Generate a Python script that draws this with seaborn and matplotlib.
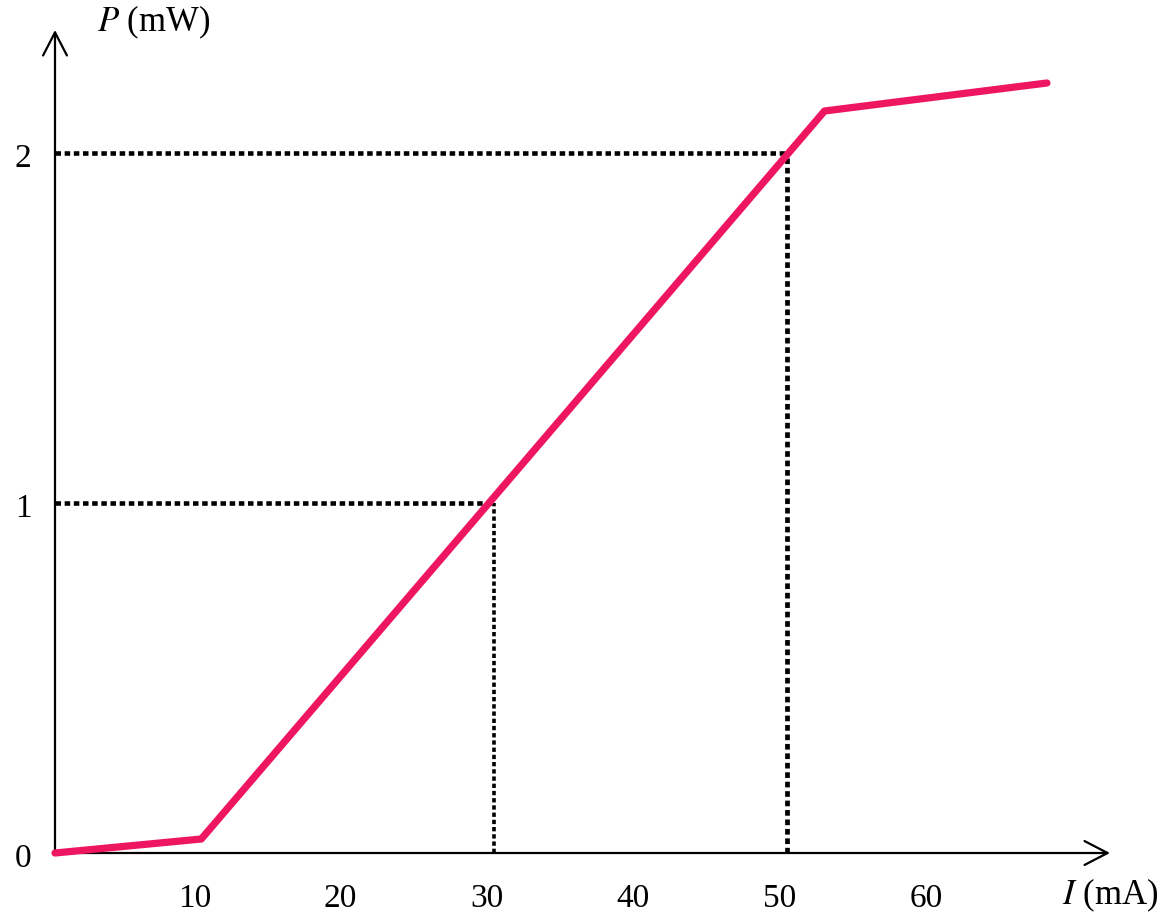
import numpy as np
import pandas as pd
import seaborn as sns
import matplotlib.pyplot as plt
from matplotlib.transforms import ScaledTranslation

# values
current_ma = [0, 10, 52.6, 67.8]
power_mw = [0, 0.04, 2.12, 2.20]
guide_current = [30, 50]
guide_power = [1, 2]
x_ticks = [10, 20, 30, 40, 50, 60]
y_ticks = [0, 1, 2]

sns.set_style('white')
plt.rcParams['font.family'] = ['Liberation Serif', 'DejaVu Serif']
plt.rcParams['mathtext.fontset'] = 'stix'
plt.rcParams['text.color'] = 'black'

W, H = 1161, 919
fig = plt.figure(figsize=(W / 100, H / 100), dpi=100)
ax = fig.add_axes([55 / W, 66 / H, 1055 / W, 823 / H])
ax.set_xlim(0, 1055 / 14.63)
ax.set_ylim(0, 823 / 350)

df = pd.DataFrame({'I': current_ma, 'P': power_mw})
sns.lineplot(data=df, x='I', y='P', color='#EE1660', lw=5.2, ax=ax,
             clip_on=False, zorder=4)

# dotted guide lines
for gx, gy, w in zip(guide_current, guide_power, [2.6, 3.4]):
    ax.plot([0, gx], [gy, gy], color='black', lw=3.3,
            linestyle=(0, (1.2, 0.8)), zorder=3)
    ax.plot([gx, gx], [0, gy], color='black', lw=w,
            linestyle=(0, (1.2, 0.8)), zorder=3)

# axes with open arrow heads
for s in ax.spines.values():
    s.set_visible(False)
arrow = dict(arrowstyle='->,head_length=0.83,head_width=0.43', lw=1.6,
             color='black', mutation_scale=20, shrinkA=0, shrinkB=0)
ax.annotate('', xy=(1, 0), xytext=(0, 0), xycoords='axes fraction', arrowprops=arrow)
ax.annotate('', xy=(0, 1), xytext=(0, 0), xycoords='axes fraction', arrowprops=arrow)

ax.set_xticks(x_ticks)
ax.set_yticks(y_ticks)
ax.tick_params(axis='x', length=0, labelsize=24, pad=22, labelcolor='black')
ax.tick_params(axis='y', length=0, labelsize=24, pad=17, labelcolor='black')
for lab in ax.get_xticklabels():
    lab.set_transform(lab.get_transform() + ScaledTranslation(-0.07, 0, fig.dpi_scale_trans))
for lab in ax.get_yticklabels():
    lab.set_transform(lab.get_transform() + ScaledTranslation(0, -0.02, fig.dpi_scale_trans))
ax.set_xlabel('')
ax.set_ylabel('')

fig.text(97 / W, 1 - 22 / H, r'$P$ (mW)', fontsize=25, va='center', ha='left')
fig.text(1158 / W, 1 - 895 / H, r'$I$ (mA)', fontsize=25, va='center', ha='right')

fig.savefig('out.png', dpi=100)
